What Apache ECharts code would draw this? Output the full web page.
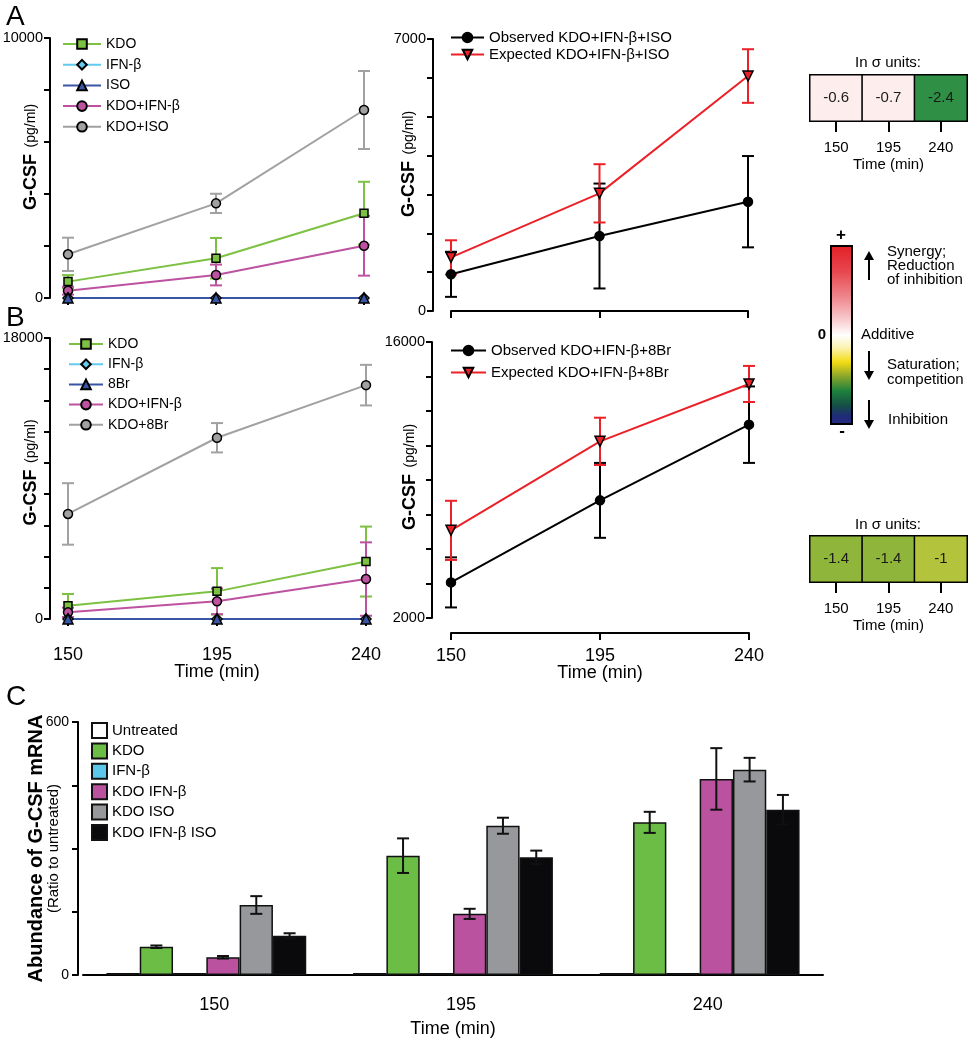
<!DOCTYPE html>
<html>
<head>
<meta charset="utf-8">
<script src="https://cdn.jsdelivr.net/npm/echarts@6/dist/echarts.min.js"></script>
<style>
    html, body { margin: 0; padding: 0; background: #fff; }
    #page { position: relative; width: 980px; height: 1050px; }
    .layer { position: absolute; left: 0; top: 0; width: 980px; height: 1050px; }
</style>
</head>
<body>
<div id="page">
    <div class="layer" id="chart_a_left"></div>
    <div class="layer" id="chart_a_right"></div>
    <div class="layer" id="chart_b_left"></div>
    <div class="layer" id="chart_b_right"></div>
    <div class="layer" id="chart_c"></div>
    <div class="layer" id="chart_side"></div>
</div>
<script>
const FONT = "'Liberation Sans', Arial, Helvetica, sans-serif";

// time points (min)
const timeLabels = ['150', '195', '240'];

// panel A, left: G-CSF (pg/ml), means and errors
const aKdo = [630, 1530, 3260];
const aKdoErr = [250, 780, 1210];
const aIfn = [0, 0, 0];
const aIso = [0, 0, 0];
const aKdoIfn = [280, 885, 2010];
const aKdoIfnErr = [150, 400, 1150];
const aKdoIso = [1680, 3640, 7230];
const aKdoIsoErr = [640, 370, 1500];

// panel A, right
const aObserved = [944, 1930, 2813];
const aObservedErr = [580, 1350, 1175];
const aExpected = [1380, 3028, 6047];
const aExpectedErr = [440, 750, 690];

// panel B, left
const bKdo = [850, 1770, 3680];
const bKdoErr = [750, 1490, 2240];
const bIfn = [0, 0, 0];
const b8br = [0, 0, 0];
const bKdoIfn = [425, 1130, 2560];
const bKdoIfnErr = [300, 820, 2350];
const bKdo8br = [6730, 11610, 14980];
const bKdo8brErr = [1970, 940, 1300];

// panel B, right
const bObserved = [3806, 7967, 11807];
const bObservedErr = [1270, 1900, 1940];
const bExpected = [6445, 10960, 13872];
const bExpectedErr = [1500, 1200, 915];

// panel C: abundance of G-CSF mRNA (ratio to untreated)
const cNames = ['Untreated', 'KDO', 'IFN-β', 'KDO IFN-β', 'KDO ISO', 'KDO IFN-β ISO'];
const cUntreated = [1, 1, 1];
const cKdo = [67, 283, 362];
const cKdoErr = [3, 41, 25];
const cIfn = [1, 4, 4];
const cKdoIfn = [42, 145, 465];
const cKdoIfnErr = [3, 12, 73];
const cKdoIso = [166, 354, 487];
const cKdoIsoErr = [21, 19, 28];
const cKdoIfnIso = [93, 279, 392];
const cKdoIfnIsoErr = [6, 16, 35];

// sigma units tables
const sigmaA = [-0.6, -0.7, -2.4];
const sigmaB = [-1.4, -1.4, -1];
const sigmaColorsA = ['#fdeded', '#fdeded', '#2f8f45'];
const sigmaColorsB = ['#90b53b', '#90b53b', '#b3c33b'];

const C_GREEN = '#7cc142';
const C_CYAN = '#62cbee';
const C_BLUE = '#3a55a5';
const C_MAGENTA = '#bd52a1';
const C_GRAY = '#a0a1a3';
const C_RED = '#ec2027';

function errorSeries(means, errs, color) {
    return {
        type: 'custom',
        silent: true,
        z: 2,
        data: means.map((m, i) => [i, m, errs[i]]),
        encode: {x: 0, y: 1},
        renderItem: function (params, api) {
            let x = api.value(0), m = api.value(1), e = api.value(2);
            if (!e) {
                return null;
            }
            let top = api.coord([x, m + e]);
            let bottom = api.coord([x, m - e]);
            let half = 6;
            return {
                type: 'group',
                children: [
                    {type: 'line', shape: {x1: top[0], y1: top[1], x2: bottom[0], y2: bottom[1]}, style: {stroke: color, lineWidth: 2}},
                    {type: 'line', shape: {x1: top[0] - half, y1: top[1], x2: top[0] + half, y2: top[1]}, style: {stroke: color, lineWidth: 2}},
                    {type: 'line', shape: {x1: bottom[0] - half, y1: bottom[1], x2: bottom[0] + half, y2: bottom[1]}, style: {stroke: color, lineWidth: 2}}
                ]
            };
        }
    };
}

function lineSeries(name, values, color, fill, symbol, size, rotate) {
    return {
        type: 'line',
        name: name,
        data: values,
        symbol: symbol,
        symbolSize: size,
        symbolRotate: rotate || 0,
        z: 3,
        lineStyle: {color: color, width: 2},
        itemStyle: {color: fill, borderColor: '#000', borderWidth: 1.5}
    };
}

function linePanel(id, p) {
    let chart = echarts.init(document.getElementById(id));
    let ticks = [];
    for (let i = 0; i <= p.tickCount; i++) {
        ticks.push(p.yMin + (p.yMax - p.yMin) * i / p.tickCount);
    }
    chart.setOption({
        animation: false,
        textStyle: {fontFamily: FONT},
        grid: {left: p.left, top: p.top, width: p.width, height: p.height, outerBoundsMode: 'none'},
        legend: {
            orient: 'vertical',
            left: p.legendLeft,
            top: p.legendTop,
            padding: 0,
            itemWidth: p.legendIconWidth,
            itemHeight: 12,
            itemGap: p.legendGap,
            textStyle: {fontSize: p.legendFont, color: '#000', fontFamily: FONT},
            data: p.legendNames
        },
        xAxis: {
            type: 'category',
            data: timeLabels,
            boundaryGap: false,
            offset: p.xOffset,
            axisLine: {lineStyle: {color: '#000', width: 2}},
            axisTick: {length: 7, lineStyle: {color: '#000', width: 2}},
            axisLabel: {show: p.showX, fontSize: 18, color: '#000', margin: 14, fontFamily: FONT},
            name: p.showX ? 'Time (min)' : '',
            nameLocation: 'middle',
            nameGap: 31,
            nameMoveOverlap: false,
            nameTextStyle: {fontSize: 18, color: '#000', fontFamily: FONT}
        },
        yAxis: {
            type: 'value',
            min: p.yMin,
            max: p.yMax,
            offset: p.yOffset,
            splitLine: {show: false},
            axisLine: {show: true, lineStyle: {color: '#000', width: 2}},
            axisTick: {show: true, length: 6, lineStyle: {color: '#000', width: 2}, customValues: ticks},
            axisLabel: {
                customValues: [p.yMin, p.yMax],
                formatter: v => String(v),
                fontSize: 14.5,
                color: '#000',
                margin: 7,
                fontFamily: FONT
            },
            name: '{b|G-CSF}  {s|(pg/ml)}',
            nameLocation: 'middle',
            nameRotate: 90,
            nameGap: p.nameGap,
            nameMoveOverlap: false,
            nameTextStyle: {
                padding: [0, 0, 0, p.nameShift * 2],
                rich: {
                    b: {fontSize: 18, fontWeight: 'bold', color: '#000', fontFamily: FONT},
                    s: {fontSize: 14, color: '#000', fontFamily: FONT}
                }
            }
        },
        series: p.series
    });
}

linePanel('chart_a_left', {
    left: 68, top: 38, width: 296, height: 260,
    yMin: 0, yMax: 10000, tickCount: 5, yOffset: 18, xOffset: 16,
    nameGap: 10, nameShift: 11, showX: false,
    legendLeft: 62, legendTop: 37, legendGap: 6.7, legendFont: 14, legendIconWidth: 38,
    legendNames: ['KDO', 'IFN-β', 'ISO', 'KDO+IFN-β', 'KDO+ISO'],
    series: [
        errorSeries(aKdoIso, aKdoIsoErr, C_GRAY),
        errorSeries(aKdo, aKdoErr, C_GREEN),
        errorSeries(aKdoIfn, aKdoIfnErr, C_MAGENTA),
        lineSeries('KDO+ISO', aKdoIso, C_GRAY, C_GRAY, 'circle', 9),
        lineSeries('KDO', aKdo, C_GREEN, C_GREEN, 'rect', 8),
        lineSeries('KDO+IFN-β', aKdoIfn, C_MAGENTA, C_MAGENTA, 'circle', 9),
        lineSeries('IFN-β', aIfn, C_CYAN, C_CYAN, 'diamond', 10),
        lineSeries('ISO', aIso, C_BLUE, C_BLUE, 'triangle', 10)
    ]
});

linePanel('chart_a_right', {
    left: 451, top: 39, width: 297, height: 272,
    yMin: 0, yMax: 7000, tickCount: 7, yOffset: 18, xOffset: 3,
    nameGap: 15, nameShift: 11, showX: false,
    legendLeft: 450, legendTop: 30, legendGap: 2, legendFont: 15, legendIconWidth: 33,
    legendNames: ['Observed KDO+IFN-β+ISO', 'Expected KDO+IFN-β+ISO'],
    series: [
        errorSeries(aObserved, aObservedErr, '#000'),
        lineSeries('Observed KDO+IFN-β+ISO', aObserved, '#000', '#000', 'circle', 9),
        errorSeries(aExpected, aExpectedErr, C_RED),
        lineSeries('Expected KDO+IFN-β+ISO', aExpected, C_RED, C_RED, 'triangle', 10, 180)
    ]
});

linePanel('chart_b_left', {
    left: 68, top: 338, width: 298, height: 281,
    yMin: 0, yMax: 18000, tickCount: 9, yOffset: 18, xOffset: 13,
    nameGap: 10, nameShift: 6, showX: true,
    legendLeft: 68, legendTop: 337, legendGap: 6.2, legendFont: 14, legendIconWidth: 34,
    legendNames: ['KDO', 'IFN-β', '8Br', 'KDO+IFN-β', 'KDO+8Br'],
    series: [
        errorSeries(bKdo8br, bKdo8brErr, C_GRAY),
        errorSeries(bKdo, bKdoErr, C_GREEN),
        errorSeries(bKdoIfn, bKdoIfnErr, C_MAGENTA),
        lineSeries('KDO+8Br', bKdo8br, C_GRAY, C_GRAY, 'circle', 9),
        lineSeries('KDO', bKdo, C_GREEN, C_GREEN, 'rect', 8),
        lineSeries('KDO+IFN-β', bKdoIfn, C_MAGENTA, C_MAGENTA, 'circle', 9),
        lineSeries('IFN-β', bIfn, C_CYAN, C_CYAN, 'diamond', 10),
        lineSeries('8Br', b8br, C_BLUE, C_BLUE, 'triangle', 10)
    ]
});

linePanel('chart_b_right', {
    left: 451, top: 342, width: 298, height: 276,
    yMin: 2000, yMax: 16000, tickCount: 8, yOffset: 19, xOffset: 15,
    nameGap: 13, nameShift: 3, showX: true,
    legendLeft: 450, legendTop: 343, legendGap: 7, legendFont: 15, legendIconWidth: 35,
    legendNames: ['Observed KDO+IFN-β+8Br', 'Expected KDO+IFN-β+8Br'],
    series: [
        errorSeries(bObserved, bObservedErr, '#000'),
        lineSeries('Observed KDO+IFN-β+8Br', bObserved, '#000', '#000', 'circle', 9),
        errorSeries(bExpected, bExpectedErr, C_RED),
        lineSeries('Expected KDO+IFN-β+8Br', bExpected, C_RED, C_RED, 'triangle', 10, 180)
    ]
});

// panel C bars
(function () {
    let chart = echarts.init(document.getElementById('chart_c'));
    let values = [cUntreated, cKdo, cIfn, cKdoIfn, cKdoIso, cKdoIfnIso];
    let errors = [[0, 0, 0], cKdoErr, [0, 0, 0], cKdoIfnErr, cKdoIsoErr, cKdoIfnIsoErr];
    let colors = ['#ffffff', '#6cbd45', '#5bc7ea', '#bb52a0', '#97989b', '#0a0a0c'];
    let categoryShare = 0.81;

    let series = cNames.map((name, k) => {
        return {
            type: 'bar',
            name: name,
            data: values[k],
            barGap: '0%',
            barCategoryGap: '19%',
            barMinHeight: 2,
            itemStyle: {color: colors[k], borderColor: '#111', borderWidth: 1.5}
        };
    });

    let errData = [];
    errors.forEach((errs, k) => {
        errs.forEach((e, g) => {
            if (e > 0) {
                errData.push([g, k, values[k][g], e]);
            }
        });
    });

    series.push({
        type: 'custom',
        silent: true,
        z: 5,
        data: errData,
        encode: {x: 0, y: 2},
        renderItem: function (params, api) {
            let g = api.value(0), k = api.value(1), v = api.value(2), e = api.value(3);
            let band = api.size([1, 0])[0];
            let barW = band * categoryShare / cNames.length;
            let center = api.coord([g, v]);
            let x = center[0] + (k - (cNames.length - 1) / 2) * barW;
            let top = api.coord([g, v + e])[1];
            let bottom = api.coord([g, v - e])[1];
            let half = 6;
            return {
                type: 'group',
                children: [
                    {type: 'line', shape: {x1: x, y1: top, x2: x, y2: bottom}, style: {stroke: '#111', lineWidth: 2}},
                    {type: 'line', shape: {x1: x - half, y1: top, x2: x + half, y2: top}, style: {stroke: '#111', lineWidth: 2}},
                    {type: 'line', shape: {x1: x - half, y1: bottom, x2: x + half, y2: bottom}, style: {stroke: '#111', lineWidth: 2}}
                ]
            };
        }
    });

    chart.setOption({
        animation: false,
        textStyle: {fontFamily: FONT},
        grid: {left: 83, top: 722, width: 740, height: 253, outerBoundsMode: 'none'},
        legend: {
            orient: 'vertical',
            left: 91,
            top: 722,
            padding: 0,
            icon: 'rect',
            itemWidth: 15,
            itemHeight: 15,
            itemGap: 3.4,
            textStyle: {fontSize: 15, color: '#000', fontFamily: FONT},
            data: cNames
        },
        xAxis: {
            type: 'category',
            data: timeLabels,
            offset: 7,
            axisLine: {lineStyle: {color: '#000', width: 2}},
            axisTick: {length: 6, lineStyle: {color: '#000', width: 2}},
            axisLabel: {fontSize: 18, color: '#000', margin: 14, padding: [0, 0, 0, 16], fontFamily: FONT},
            name: 'Time (min)',
            nameLocation: 'middle',
            nameGap: 38,
            nameMoveOverlap: false,
            nameTextStyle: {fontSize: 18, color: '#000', fontFamily: FONT}
        },
        yAxis: {
            type: 'value',
            min: 0,
            max: 600,
            offset: 5,
            splitLine: {show: false},
            axisLine: {show: true, lineStyle: {color: '#000', width: 2}},
            axisTick: {show: true, length: 6, lineStyle: {color: '#000', width: 2}, customValues: [0, 150, 300, 450, 600]},
            axisLabel: {customValues: [0, 600], fontSize: 14, color: '#000', margin: 9, fontFamily: FONT},
            name: '{t|Abundance of G-CSF mRNA}\n{s|(Ratio to untreated)}',
            nameLocation: 'middle',
            nameRotate: 90,
            nameGap: 17,
            nameMoveOverlap: false,
            nameTextStyle: {
                align: 'center',
                rich: {
                    t: {fontSize: 20, fontWeight: 'bold', color: '#000', fontFamily: FONT, align: 'center'},
                    s: {fontSize: 15, color: '#000', fontFamily: FONT, align: 'center'}
                }
            }
        },
        series: series
    });
})();

// sigma tables, colour key and panel letters
(function () {
    let chart = echarts.init(document.getElementById('chart_side'));

    function sigmaAxis(gridIndex) {
        return {
            gridIndex: gridIndex,
            type: 'category',
            data: timeLabels,
            axisLine: {show: false},
            axisTick: {show: true, alignWithLabel: true, length: 11, lineStyle: {color: '#000', width: 2}},
            axisLabel: {fontSize: 15, color: '#000', margin: 19, fontFamily: FONT},
            splitLine: {show: false},
            name: 'Time (min)',
            nameLocation: 'middle',
            nameGap: 36,
            nameMoveOverlap: false,
            nameTextStyle: {fontSize: 15, color: '#000', fontFamily: FONT}
        };
    }

    function sigmaSeries(idx, values, colors) {
        return {
            type: 'heatmap',
            xAxisIndex: idx,
            yAxisIndex: idx,
            data: values.map((v, i) => ({value: [i, 0, v], itemStyle: {color: colors[i]}})),
            itemStyle: {borderColor: '#000', borderWidth: 1.5},
            label: {show: true, formatter: p => p.value[2], fontSize: 15, color: '#1a1a1a', fontFamily: FONT}
        };
    }

    let barX = 831, barTop = 246, barH = 178, barW = 21;
    let textStyle = (text, x, y, extra) => Object.assign({
        text: text, x: x, y: y, fill: '#000', fontSize: 15, fontFamily: FONT, verticalAlign: 'middle'
    }, extra || {});

    function arrow(x, y1, y2) {
        let dir = y2 > y1 ? 1 : -1;
        return [
            {type: 'line', shape: {x1: x, y1: y1, x2: x, y2: y2 - dir * 8}, style: {stroke: '#000', lineWidth: 2}},
            {type: 'polygon', shape: {points: [[x - 5, y2 - dir * 9], [x + 5, y2 - dir * 9], [x, y2]]}, style: {fill: '#000'}}
        ];
    }

    let graphics = [
        {type: 'text', style: textStyle('A', 6, 17, {fontSize: 28})},
        {type: 'text', style: textStyle('B', 6, 318, {fontSize: 28})},
        {type: 'text', style: textStyle('C', 6, 697, {fontSize: 28})},
        {type: 'text', style: textStyle('In σ units:', 888, 63, {align: 'center'})},
        {type: 'text', style: textStyle('In σ units:', 888, 525, {align: 'center'})},
        {
            type: 'rect',
            shape: {x: barX, y: barTop, width: barW, height: barH},
            style: {
                stroke: '#000',
                lineWidth: 2,
                fill: new echarts.graphic.LinearGradient(0, 0, 0, 1, [
                    {offset: 0, color: '#e31e26'},
                    {offset: 0.15, color: '#e84850'},
                    {offset: 0.3, color: '#ef8c92'},
                    {offset: 0.42, color: '#f8cfd2'},
                    {offset: 0.5, color: '#ffffff'},
                    {offset: 0.57, color: '#fbf2b2'},
                    {offset: 0.65, color: '#f3dc14'},
                    {offset: 0.73, color: '#8aa62a'},
                    {offset: 0.81, color: '#1e823c'},
                    {offset: 0.89, color: '#155046'},
                    {offset: 0.95, color: '#1f2b78'},
                    {offset: 1, color: '#262a80'}
                ])
            }
        },
        {type: 'text', style: textStyle('+', 841, 235, {align: 'center', fontSize: 17, fontWeight: 'bold'})},
        {type: 'text', style: textStyle('0', 826, 335, {align: 'right', fontWeight: 'bold'})},
        {type: 'text', style: textStyle('-', 842, 431, {align: 'center', fontSize: 17, fontWeight: 'bold'})},
        {type: 'text', style: textStyle('Synergy;', 887, 252)},
        {type: 'text', style: textStyle('Reduction', 887, 266)},
        {type: 'text', style: textStyle('of inhibition', 887, 280)},
        {type: 'text', style: textStyle('Additive', 861, 335)},
        {type: 'text', style: textStyle('Saturation;', 887, 365)},
        {type: 'text', style: textStyle('competition', 887, 380)},
        {type: 'text', style: textStyle('Inhibition', 888, 420)}
    ].concat(arrow(869, 280, 251), arrow(869, 351, 380), arrow(869, 400, 429));

    chart.setOption({
        animation: false,
        textStyle: {fontFamily: FONT},
        grid: [
            {left: 810, top: 75, width: 157, height: 46, show: true, borderColor: '#000', borderWidth: 2, backgroundColor: 'transparent', outerBoundsMode: 'none'},
            {left: 810, top: 536, width: 157, height: 46, show: true, borderColor: '#000', borderWidth: 2, backgroundColor: 'transparent', outerBoundsMode: 'none'}
        ],
        xAxis: [sigmaAxis(0), sigmaAxis(1)],
        yAxis: [
            {gridIndex: 0, type: 'category', data: [''], show: false},
            {gridIndex: 1, type: 'category', data: [''], show: false}
        ],
        series: [
            sigmaSeries(0, sigmaA, sigmaColorsA),
            sigmaSeries(1, sigmaB, sigmaColorsB)
        ],
        graphic: graphics
    });
})();
</script>
</body>
</html>
